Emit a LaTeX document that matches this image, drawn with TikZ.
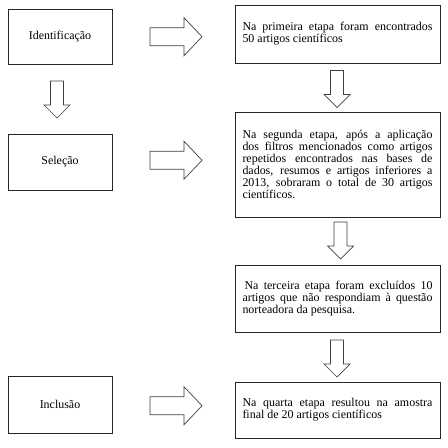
\documentclass[tikz,border=0pt]{standalone}
\usepackage{fontspec}
\setmainfont{Liberation Serif}
\usetikzlibrary{calc}
\tikzset{
  leftbox/.style={draw=black!85, line width=0.9bp, minimum width=104bp, inner sep=0pt, align=center,
    font=\fontsize{12}{12.1}\selectfont},
  rightbox/.style={draw=black!85, line width=0.9bp, text width=190bp, inner xsep=7.5bp, inner ysep=0pt,
    align=justify, font=\fontsize{12}{12.1}\selectfont},
  blockarrow/.style={draw=black!75, line width=0.7bp, fill=white, line join=miter},
  rarrow/.pic={\path[blockarrow] (-26,-9) -- (8,-9) -- (8,-19) -- (26,0) -- (8,19) -- (8,9) -- (-26,9) -- cycle;},
  darrow/.pic={\path[blockarrow] (-6.5,-18.5) -- (6.5,-18.5) -- (6.5,5.5) -- (13,5.5) -- (0,18.5) -- (-13,5.5) -- (-6.5,5.5) -- cycle;}
}
\begin{document}
\begin{tikzpicture}[x=1bp,y=-1bp]
\useasboundingbox[fill=white] (0,0) rectangle (448,448);

% left column
\node[leftbox, minimum height=55bp] (idn) at (60,36.5) {Identificação};
\node[leftbox, minimum height=56bp] (sel) at (60,162) {Seleção};
\node[leftbox, minimum height=57bp] (inc) at (60,404.5) {Inclusão};

% right column
\node[rightbox, minimum height=58bp] (b1) at (337.5,34)
  {Na primeira etapa foram encontrados\linebreak 50 artigos científicos};
\node[rightbox, minimum height=105bp] (b2) at (337.5,164.5)
  {Na segunda etapa, após a aplicação\linebreak dos filtros mencionados como artigos\linebreak repetidos encontrados nas bases de\linebreak dados, resumos e artigos inferiores a\linebreak 2013, sobraram o total de 30 artigos\linebreak científicos.};
\node[rightbox, minimum height=67bp] (b3) at (337.5,298.5)
  {\hspace*{2bp}Na terceira etapa foram excluídos 10\linebreak artigos que não respondiam à questão\linebreak norteadora da pesquisa.};
\node[rightbox, minimum height=56bp] (b4) at (337.5,410)
  {Na quarta etapa resultou na amostra\linebreak final de 20 artigos científicos};

% horizontal block arrows
\pic at ($(idn.east)!0.5!(b1.west)+(2.5,1.5)$) {rarrow};
\pic at ($(sel.east)!0.5!(b2.west)+(2.5,-3)$) {rarrow};
\pic at ($(inc.east)!0.5!(b4.west)+(2.5,-1.5)$) {rarrow};

% vertical block arrows
\pic at ($(idn.south)!0.5!(sel.north)+(-3,0.5)$) {darrow};
\pic at ($(b1.south)!0.5!(b2.north)+(-0.5,1.5)$) {darrow};
\pic at ($(b2.south)!0.5!(b3.north)+(3,-0.5)$) {darrow};
\pic at ($(b3.south)!0.5!(b4.north)+(-0.5,1.5)$) {darrow};
\end{tikzpicture}
\end{document}
